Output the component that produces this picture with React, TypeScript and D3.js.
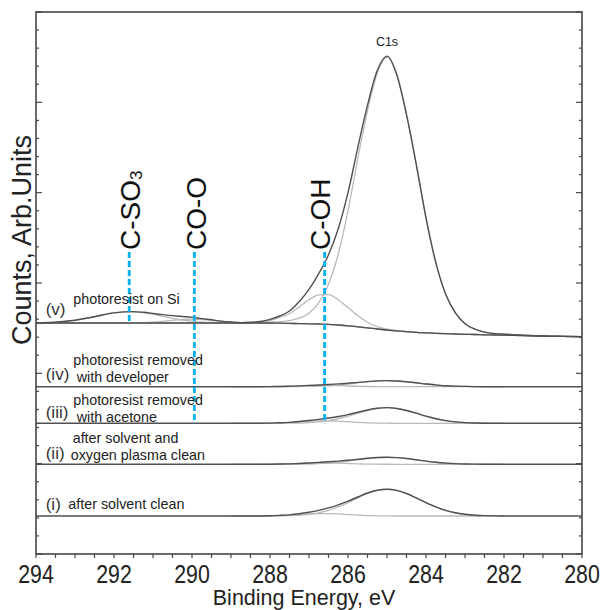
import React from 'react';
import * as d3 from 'd3';

// Binding-energy grid (eV), 7 values per row
const BE = [
  294, 293.5, 293, 292.5, 292, 291.75, 291.5,
  291.25, 291, 290.75, 290.5, 290.25, 290, 289.75,
  289.5, 289.25, 289, 288.75, 288.5, 288.25, 288,
  287.75, 287.5, 287.25, 287, 286.75, 286.5, 286.25,
  286, 285.75, 285.5, 285.25, 285, 284.75, 284.5,
  284.25, 284, 283.75, 283.5, 283.25, 283, 282.75,
  282.5, 282.25, 282, 281.5, 281, 280.5, 280,
];

// Baseline offsets of each stacked spectrum (arb. units)
const OFFSET_V = 231;
const OFFSET_IV = 167.3;
const OFFSET_III = 130.7;
const OFFSET_II = 89.7;
const OFFSET_I = 38;

// (v) photoresist on Si
const V_BKG = [
  0, 0, 0, 0, 0, 0, 0,
  0, 0, 0, 0, 0, 0, 0,
  0, 0, 0, 0, 0, 0, 0,
  -0.2, -0.4, -0.6, -0.8, -1.0, -1.3, -2.0,
  -2.8, -3.8, -4.8, -6.0, -7.0, -7.8, -8.6,
  -9.3, -9.8, -10.3, -10.7, -11.0, -11.3, -11.5,
  -11.8, -12.0, -12.2, -12.6, -13.0, -13.4, -13.7,
];
const V_CSO3 = [
  0.2, 0.8, 2.7, 6.3, 10.1, 11.1, 11.2,
  10.3, 8.7, 6.7, 4.7, 3.0, 1.8, 0.9,
  0.5, 0.2, 0.1, 0, 0, 0, 0,
  0, 0, 0, 0, 0, 0, 0,
  0, 0, 0, 0, 0, 0, 0,
  0, 0, 0, 0, 0, 0, 0,
  0, 0, 0, 0, 0, 0, 0,
];
const V_COO = [
  0, 0, 0, 0, 0, 0, 0.2,
  0.4, 0.9, 1.7, 2.7, 3.5, 3.8, 3.5,
  2.7, 1.7, 0.9, 0.4, 0.2, 0, 0,
  0, 0, 0, 0, 0, 0, 0,
  0, 0, 0, 0, 0, 0, 0,
  0, 0, 0, 0, 0, 0, 0,
  0, 0, 0, 0, 0, 0, 0,
];
const V_COH = [
  0, 0, 0, 0, 0, 0, 0,
  0, 0, 0, 0, 0, 0, 0,
  0, 0, 0, 0, 0.3, 1.0, 2.6,
  5.8, 9.7, 16.7, 24.0, 29.1, 29.6, 25.3,
  18.2, 11.0, 5.6, 2.4, 0.9, 0.3, 0,
  0, 0, 0, 0, 0, 0, 0,
  0, 0, 0, 0, 0, 0, 0,
];
const V_CC = [
  0, 0, 0, 0, 0, 0, 0,
  0, 0, 0, 0, 0, 0, 0,
  0, 0, 0, 0, 0.2, 0.5, 1.0,
  1.4, 2.7, 5.4, 10.5, 21.3, 40, 71,
  115, 168, 217, 256, 273, 256, 217,
  168, 115, 71, 40, 21.3, 10.5, 5.4,
  2.7, 1.4, 1.0, 0.4, 0, 0, 0,
];

// (iv) removed with developer
const IV_COH = [
  0, 0, 0, 0, 0, 0, 0,
  0, 0, 0, 0, 0, 0, 0,
  0, 0, 0, 0, 0, 0, 0.1,
  0.2, 0.4, 0.7, 1.0, 1.16, 1.18, 1.0,
  0.7, 0.44, 0.22, 0.1, 0.04, 0, 0,
  0, 0, 0, 0, 0, 0, 0,
  0, 0, 0, 0, 0, 0, 0,
];
const IV_CC = [
  0, 0, 0, 0, 0, 0, 0,
  0, 0, 0, 0, 0, 0, 0,
  0, 0, 0, 0, 0, 0, 0,
  0, 0, 0.1, 0.3, 0.55, 1.0, 1.8,
  2.7, 3.9, 4.9, 5.7, 6.0, 5.7, 4.9,
  3.9, 2.7, 1.8, 1.0, 0.55, 0.3, 0.1,
  0, 0, 0, 0, 0, 0, 0,
];

// (iii) removed with acetone
const III_COH = [
  0, 0, 0, 0, 0, 0, 0,
  0, 0, 0, 0, 0, 0, 0,
  0, 0, 0, 0, 0, 0.06, 0.2,
  0.5, 0.84, 1.45, 2.08, 2.52, 2.57, 2.19,
  1.58, 0.95, 0.49, 0.21, 0.08, 0, 0,
  0, 0, 0, 0, 0, 0, 0,
  0, 0, 0, 0, 0, 0, 0,
];
const III_CC = [
  0, 0, 0, 0, 0, 0, 0,
  0, 0, 0, 0, 0, 0, 0,
  0, 0, 0, 0, 0, 0, 0,
  0, 0.1, 0.3, 0.7, 1.4, 2.7, 4.6,
  7.1, 10.1, 12.8, 14.85, 15.6, 14.85, 12.8,
  10.1, 7.1, 4.6, 2.7, 1.4, 0.7, 0.3,
  0.1, 0, 0, 0, 0, 0, 0,
];

// (ii) after solvent and oxygen plasma clean
const II_COH = [
  0, 0, 0, 0, 0, 0, 0,
  0, 0, 0, 0, 0, 0, 0,
  0, 0, 0, 0, 0, 0, 0.1,
  0.25, 0.42, 0.72, 1.04, 1.26, 1.28, 1.1,
  0.79, 0.48, 0.24, 0.1, 0.04, 0, 0,
  0, 0, 0, 0, 0, 0, 0,
  0, 0, 0, 0, 0, 0, 0,
];
const II_CC = [
  0, 0, 0, 0, 0, 0, 0,
  0, 0, 0, 0, 0, 0, 0,
  0, 0, 0, 0, 0, 0, 0,
  0, 0.05, 0.13, 0.31, 0.64, 1.2, 2.07,
  3.2, 4.5, 5.74, 6.66, 7, 6.66, 5.74,
  4.5, 3.2, 2.07, 1.2, 0.64, 0.31, 0.13,
  0.05, 0, 0, 0, 0, 0, 0,
];

// (i) after solvent clean
const I_COH = [
  0, 0, 0, 0, 0, 0, 0,
  0, 0, 0, 0, 0, 0, 0,
  0, 0, 0, 0, 0, 0.06, 0.2,
  0.48, 0.81, 1.39, 2.0, 2.43, 2.47, 2.1,
  1.52, 0.92, 0.47, 0.2, 0.08, 0, 0,
  0, 0, 0, 0, 0, 0, 0,
  0, 0, 0, 0, 0, 0, 0,
];
const I_CC = [
  0, 0, 0, 0, 0, 0, 0,
  0, 0, 0, 0, 0, 0, 0,
  0, 0, 0, 0, 0, 0, 0.05,
  0.15, 0.35, 0.8, 1.7, 3.2, 5.6, 9.1,
  13.4, 18.1, 22.5, 25.6, 26.7, 25.6, 22.5,
  18.1, 13.4, 9.1, 5.6, 3.2, 1.7, 0.8,
  0.35, 0.15, 0.05, 0, 0, 0, 0,
];

const ROMAN = ['(v)', '(iv)', '(iii)', '(ii)', '(i)'];
const DESCRIPTIONS = [
  ['photoresist on Si'],
  ['photoresist removed', 'with developer'],
  ['photoresist removed', 'with acetone'],
  ['after solvent and', 'oxygen plasma clean'],
  ['after solvent clean'],
];

const PEAK_NAMES = ['C-SO', 'CO-O', 'C-OH'];
const PEAK_SUBS = ['3', '', ''];
const PEAK_LINE_BE = [291.61, 289.94, 286.6];
const PEAK_LABEL_BE = [291.6, 289.9, 286.72];
const PEAK_LINE_TOP = 302;
const PEAK_LINE_BOTTOM = [OFFSET_V, OFFSET_III, OFFSET_III];

const MAIN_PEAK_LABEL = 'C1s';
const MAIN_PEAK_BE = 285.0;
const MAIN_PEAK_LABEL_Y = 508;

const X_TICK_LABELS = [294, 292, 290, 288, 286, 284, 282, 280];
const X_TITLE = 'Binding Energy, eV';
const Y_TITLE = 'Counts, Arb.Units';

const FONT = '"Liberation Sans", Arial, Helvetica, sans-serif';

export default function App() {
  const W = 601, H = 610;
  const left = 36, right = 582, top = 12, bottom = 554;
  const x = d3.scaleLinear().domain([294, 280]).range([left, right]);
  const y = d3.scaleLinear().domain([0, 542]).range([bottom, top]);
  const line = d3
    .line<[number, number]>()
    .x((d) => x(d[0]))
    .y((d) => y(d[1]))
    .curve(d3.curveMonotoneX);

  const zeros = BE.map(() => 0);
  const spectra = [
    { offset: OFFSET_V, bkg: V_BKG, comps: [V_CSO3, V_COO, V_COH, V_CC], fit: [294, 280], drawBkg: true },
    { offset: OFFSET_IV, bkg: zeros, comps: [IV_COH, IV_CC], fit: [289, 282], drawBkg: false },
    { offset: OFFSET_III, bkg: zeros, comps: [III_COH, III_CC], fit: [289, 282], drawBkg: false },
    { offset: OFFSET_II, bkg: zeros, comps: [II_COH, II_CC], fit: [289, 282], drawBkg: false },
    { offset: OFFSET_I, bkg: zeros, comps: [I_COH, I_CC], fit: [289, 282], drawBkg: false },
  ];

  // label layout (pixel offsets relative to each spectrum baseline)
  const romanDy = [-8.3, -7, -5.3, -5.3, -6.3];
  const descLayout = [
    [{ x: 73.3, dy: -19.4 }],
    [{ x: 73.3, dy: -21.4 }, { x: 76.7, dy: -4.7 }],
    [{ x: 73.3, dy: -18.7 }, { x: 76.7, dy: -1.8 }],
    [{ x: 72.7, dy: -21.3 }, { x: 70.7, dy: -4.7 }],
    [{ x: 68.3, dy: -7.4 }],
  ];

  const yTicks = d3.range(31).map((i) => (i * 542) / 30);
  const xTicks = d3.range(29).map((i) => 294 - i * 0.5);

  const axisColor = '#474747';
  const envColor = '#505050';
  const compColor = '#b9b9b9';

  return (
    <svg
      width={W}
      height={H}
      style={{ position: 'absolute', left: 0, top: 0, background: '#fff' }}
      fontFamily={FONT}
    >
      <rect x={0} y={0} width={W} height={H} fill="#fff" />
      {/* spectra */}
      {spectra.map((s, si) => {
        const comps = s.comps.map((c) =>
          BE.map((b, i) => [b, s.offset + s.bkg[i] + c[i]] as [number, number]).filter(
            (d) => d[0] <= s.fit[0] && d[0] >= s.fit[1]
          )
        );
        const env = BE.map(
          (b, i) =>
            [b, s.offset + s.bkg[i] + s.comps.reduce((acc, c) => acc + c[i], 0)] as [number, number]
        );
        const bkg = BE.map((b, i) => [b, s.offset + s.bkg[i]] as [number, number]);
        return (
          <g key={si}>
            {comps.map((c, ci) => (
              <path key={ci} d={line(c) || ''} fill="none" stroke={compColor} strokeWidth={1.3} />
            ))}
            {s.drawBkg && <path d={line(bkg) || ''} fill="none" stroke={envColor} strokeWidth={1.3} />}
            <path d={line(env) || ''} fill="none" stroke={envColor} strokeWidth={1.4} />
          </g>
        );
      })}

      {/* dashed marker lines */}
      {PEAK_LINE_BE.map((b, i) => (
        <line
          key={i}
          x1={x(b)}
          x2={x(b)}
          y1={y(PEAK_LINE_TOP)}
          y2={y(PEAK_LINE_BOTTOM[i])}
          stroke="#00b0f0"
          strokeWidth={2.8}
          strokeDasharray="6 3"
        />
      ))}

      {/* peak labels */}
      {PEAK_NAMES.map((n, i) => (
        <text
          key={i}
          transform={`translate(${x(PEAK_LABEL_BE[i]) + 10.5},${y(PEAK_LINE_TOP) - 2}) rotate(-90)`}
          fontSize={28}
          fill="#111"
        >
          {n}
          {PEAK_SUBS[i] && (
            <tspan fontSize={17} dy={2}>
              {PEAK_SUBS[i]}
            </tspan>
          )}
        </text>
      ))}
      <text x={x(MAIN_PEAK_BE)} y={y(MAIN_PEAK_LABEL_Y)} fontSize={12.5} textAnchor="middle" fill="#222">
        {MAIN_PEAK_LABEL}
      </text>

      {/* spectrum labels */}
      {spectra.map((s, si) => (
        <g key={si}>
          <text x={45.7} y={y(s.offset) + romanDy[si]} fontSize={17} fill="#333">
            {ROMAN[si]}
          </text>
          {DESCRIPTIONS[si].map((t, ti) => (
            <text key={ti} x={descLayout[si][ti].x} y={y(s.offset) + descLayout[si][ti].dy} fontSize={14.3} fill="#222">
              {t}
            </text>
          ))}
        </g>
      ))}

      {/* frame */}
      <rect x={left} y={top} width={right - left} height={bottom - top} fill="none" stroke={axisColor} strokeWidth={1.6} />
      {/* y ticks */}
      {yTicks.map((t, i) => {
        const major = i % 5 === 0;
        return (
          <g key={i}>
            <line x1={left} x2={left + (major ? 6 : 3)} y1={y(t)} y2={y(t)} stroke={axisColor} strokeWidth={1.2} />
            <line x1={right} x2={right - (major ? 6 : 3)} y1={y(t)} y2={y(t)} stroke={axisColor} strokeWidth={1.2} />
          </g>
        );
      })}
      {/* x ticks */}
      {xTicks.map((t, i) => (
        <line key={i} x1={x(t)} x2={x(t)} y1={bottom} y2={bottom + 4} stroke={axisColor} strokeWidth={1.2} />
      ))}
      {X_TICK_LABELS.map((t) => (
        <text
          key={t}
          transform={`translate(${x(t)},582.5) scale(0.82,1)`}
          textAnchor="middle"
          fontSize={26}
          fill="#222"
        >
          {t}
        </text>
      ))}
      <text x={304} y={605} textAnchor="middle" fontSize={21.5} fill="#222">
        {X_TITLE}
      </text>
      <text transform="translate(31,240) rotate(-90)" textAnchor="middle" fontSize={27} fill="#222">
        {Y_TITLE}
      </text>
    </svg>
  );
}
